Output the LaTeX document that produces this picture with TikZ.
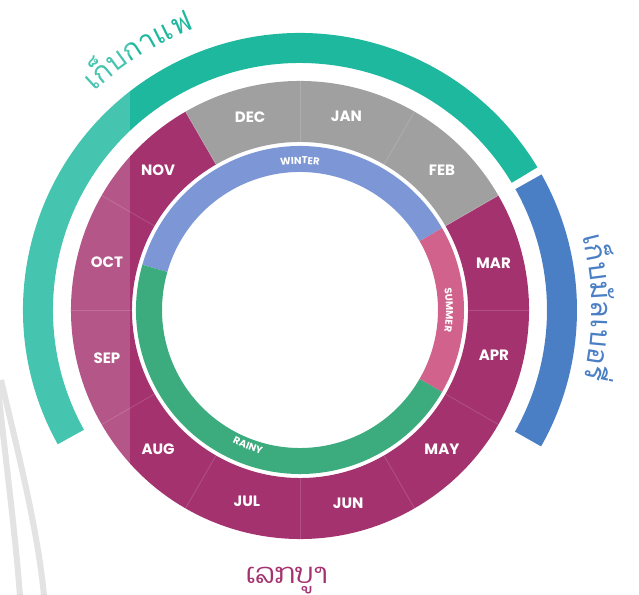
\documentclass[tikz,border=0pt]{standalone}
\usepackage{fontspec}
\usepackage{xcolor}
\newfontfamily\popfont{Poppins}
\newfontfamily\thaifont[Script=Thai]{Loma}
\newfontfamily\laofont[Script=Lao]{Dhyana}
\usetikzlibrary{decorations.text}

\definecolor{coffeeteal}{HTML}{1DB89E}
\definecolor{berryblue}{HTML}{4A7FC5}
\definecolor{monthmag}{HTML}{A4326F}
\definecolor{coldgrey}{HTML}{A0A0A0}
\definecolor{winterblue}{HTML}{7D97D6}
\definecolor{summerpink}{HTML}{D0628B}
\definecolor{rainygreen}{HTML}{3CAB7E}
\definecolor{decogrey}{HTML}{DDDDDD}

% ring piece: colour, start angle, end angle, outer radius, inner radius
\newcommand{\ringseg}[5]{\fill[#1] (#2:#4) arc[start angle=#2, end angle=#3, radius=#4] -- (#3:#5) arc[start angle=#3, end angle=#2, radius=#5] -- cycle;}

\tikzset{
  monthlbl/.style={text=white, font=\popfont\bfseries\fontsize{15}{15}\selectfont, inner sep=0pt},
  seasonlbl/.style={decorate, decoration={text along path, text align=center, text={|\popfont\bfseries\fontsize{10}{10}\selectfont\color{white}|#1}}},
  harvestlbl/.style n args={2}{decorate, decoration={text along path, text align=center, text={|\thaifont\fontsize{29}{29}\selectfont\color{#1}|#2}}}
}

\begin{document}
\begin{tikzpicture}[x=1pt, y=1pt]
  \useasboundingbox (0,0) rectangle (639,594);

  % faint grey arcs, lower left
  \draw[decogrey, line width=6pt] (-3,215) .. controls (6,130) and (15,64) .. (20,-2);
  \draw[decogrey, line width=6pt] (1,214) .. controls (16,150) and (38,64) .. (44,-2);

  \begin{scope}[shift={(300,284)}]
    % outer harvest arcs
    \ringseg{coffeeteal}{31}{209}{277}{247}
    \ringseg{berryblue}{-29.5}{29.3}{277}{247}

    % month ring
    \ringseg{monthmag}{-240}{30}{229}{168}
    \ringseg{coldgrey}{30}{120}{229}{168}
    \foreach \a in {0,30,...,330}
      \draw[white, opacity=0.15, line width=0.8pt] (\a:168) -- (\a:229);

    % season ring
    \ringseg{summerpink}{-30}{30}{164}{138}
    \ringseg{winterblue}{30}{164}{164}{138}
    \ringseg{rainygreen}{164}{330}{164}{138}

    % month labels
    \foreach \m/\a in {DEC/104.5, JAN/76.5, FEB/44.5, MAR/13.5, APR/-13, MAY/-44.5,
                       JUN/-76, JUL/-105.5, AUG/-135.5, SEP/-166, OCT/166, NOV/135.5}
      \node[monthlbl] (\m) at (\a:199) {\m};

    % season labels
    \path[seasonlbl=WINTER] (105:146) arc[start angle=105, end angle=75, radius=146];
    \path[seasonlbl=SUMMER] (16:146) arc[start angle=16, end angle=-16, radius=146];
    \path[seasonlbl=RAINY] (-126:149) arc[start angle=-126, end angle=-96, radius=149];

    % harvest labels
    \path[harvestlbl={coffeeteal}{เ{ก็}บกาแฟ}] (150:300) arc[start angle=150, end angle=94, radius=300];
    \path[harvestlbl={berryblue}{เ{ก็}บ{มั}ลเบอ{รี่}}] (30.5:292) arc[start angle=30.5, end angle=-29.5, radius=292];
  \end{scope}

  \node[text=monthmag, anchor=base, font=\laofont\fontsize{28}{28}\selectfont] (care) at (286.5,11) {ເລກບູາ};

  % light panel on the left
  \fill[white, opacity=0.18] (0,0) rectangle (130,594);
\end{tikzpicture}
\end{document}
